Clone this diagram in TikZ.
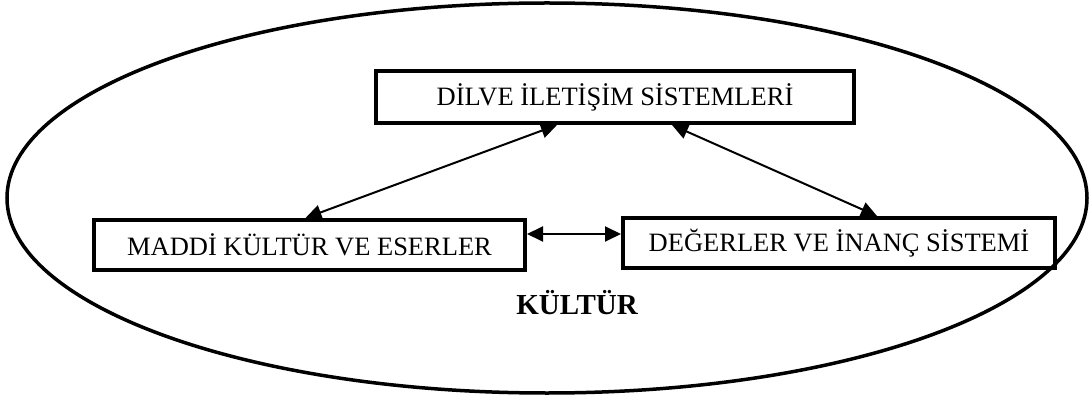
\documentclass[tikz,border=0pt]{standalone}
\usepackage{fontspec}
\setmainfont{Liberation Serif}
\usetikzlibrary{arrows.meta}

\begin{document}
\begin{tikzpicture}[x=1pt, y=-1pt,
    kutu/.style={draw, rectangle, line width=4pt, minimum height=50pt, font=\fontsize{26.5}{30}\selectfont},
    ok/.style={line width=2pt, {Triangle[length=16pt,width=15pt]}-{Triangle[length=16pt,width=15pt]}}]
\useasboundingbox (0,0) rectangle (1092,398);

% Culture ellipse
\draw[line width=3.5pt] (547,198) ellipse [x radius=540, y radius=195];

% Boxes
\node[kutu, minimum width=478pt, minimum height=52pt] (dil) at (615,97) {DİLVE İLETİŞİM SİSTEMLERİ};
\node[kutu, minimum width=431pt] (madde) at (309.5,245) {MADDİ KÜLTÜR VE ESERLER};
\node[kutu, minimum width=432pt] (deger) at (839,243) {DEĞERLER VE İNANÇ SİSTEMİ};

% Connections
\draw[ok] ([xshift=-58pt]dil.south) -- ([xshift=-4pt]madde.north);
\draw[ok] ([xshift=57pt]dil.south) -- ([xshift=38pt]deger.north);
\draw[ok] ([yshift=11pt]madde.east) -- ([yshift=9pt]deger.west);

% Label
\node[font=\fontsize{29}{34}\selectfont\bfseries] (kultur) at (577,303) {KÜLTÜR};
\end{tikzpicture}
\end{document}
